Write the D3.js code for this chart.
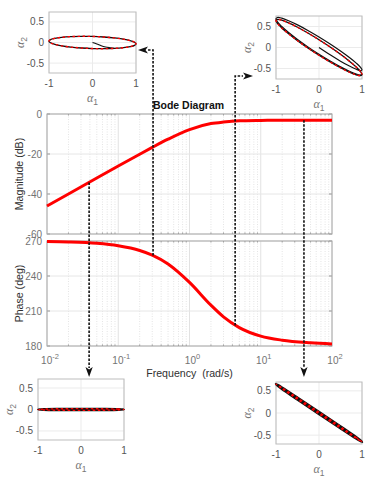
<!DOCTYPE html>
<html>
<head>
<meta charset="utf-8">
<script src="https://cdn.jsdelivr.net/npm/d3@7"></script>
<style>
  body { margin: 0; background: #fff; }
  svg { display: block; font-family: "Liberation Sans", Arial, sans-serif; }
</style>
</head>
<body>
<script>
var width = 374,
    height = 477;

// bode data
var freq      = [0.01, 0.02, 0.05, 0.1, 0.2, 0.3, 0.5, 1, 2, 3, 5, 10, 20, 50, 100];
var magDb     = [-46.0, -40.0, -32.0, -26.0, -20.1, -16.7, -12.6, -7.8, -4.8, -4.0, -3.4, -3.2, -3.1, -3.1, -3.1];
var phaseDeg  = [269.6, 269.2, 268.0, 265.9, 261.9, 257.9, 250.3, 234.5, 215.0, 205.0, 195.8, 188.5, 185.0, 182.8, 181.8];

var magTicks   = [0, -20, -40, -60];
var phaseTicks = [270, 240, 210, 180];
var freqTicks  = [0.01, 0.1, 1, 10, 100];
var freqExp    = ["-2", "-1", "0", "1", "2"];

// the four probe frequencies (dashed connectors)
var probeFreq  = [0.039, 0.308, 4.37, 40.4];
var probeMag   = [-34.2, -16.6, -3.4, -3.1];
var probePhase = [268.4, 257.6, 197.6, 183.6];

// inset ticks
var insetXTicks = [-1, 0, 1];
var insetYTicks = [0.5, 0, -0.5];

// inset A (w = 0.31)
var ellA1 = [1, 0.966, 0.866, 0.707, 0.5, 0.259, 0, -0.259, -0.5, -0.707, -0.866, -0.966, -1, -0.966, -0.866, -0.707, -0.5, -0.259, 0, 0.259, 0.5, 0.707, 0.866, 0.966];
var ellA2 = [-0.032, 0.007, 0.045, 0.081, 0.111, 0.133, 0.147, 0.150, 0.143, 0.126, 0.101, 0.069, 0.032, -0.007, -0.045, -0.081, -0.111, -0.133, -0.147, -0.150, -0.143, -0.126, -0.101, -0.069];
var trA1  = [0, 0.1, 0.2, 0.3, 0.42, 0.5];
var trA2  = [0, -0.035, -0.08, -0.11, -0.13, -0.143];

// inset B (w = 4.4)
var ellB1 = ellA1.slice();
var ellB2 = [-0.644, -0.574, -0.465, -0.325, -0.162, 0.012, 0.185, 0.345, 0.482, 0.586, 0.650, 0.670, 0.644, 0.574, 0.465, 0.325, 0.162, -0.012, -0.185, -0.345, -0.482, -0.586, -0.650, -0.670];
var trB1  = [0, 0.259, 0.5, 0.707, 0.866, 0.966, 1, 0.966, 0.866, 0.707, 0.5, 0.259, 0, -0.259, -0.5, -0.707, -0.866, -0.966, -1, -0.966, -0.866, -0.707, -0.5, -0.259, 0, 0.259, 0.5, 0.707, 0.866, 0.966, 1];
var trB2  = [0, -0.175, -0.326, -0.442, -0.518, -0.549, -0.532, -0.471, -0.371, -0.238, -0.082, 0.085, 0.252, 0.407, 0.539, 0.638, 0.698, 0.714, 0.685, 0.611, 0.499, 0.356, 0.191, 0.015, -0.161, -0.323, -0.462, -0.567, -0.633, -0.654, -0.630];

// inset C (w = 0.039)
var ellC1 = [1, 0.866, 0.5, 0, -0.5, -0.866, -1, -0.866, -0.5, 0, 0.5, 0.866];
var ellC2 = [0, 0.010, 0.017, 0.020, 0.017, 0.010, 0, -0.010, -0.017, -0.020, -0.017, -0.010];

// inset D (w = 40)
var ellD1 = ellC1.slice();
var ellD2 = [-0.651, -0.553, -0.308, 0.020, 0.343, 0.574, 0.651, 0.553, 0.308, -0.020, -0.343, -0.574];

var svg = d3.select("body").append("svg")
    .attr("width", width)
    .attr("height", height);

var x = d3.scaleLog().domain([0.01, 100]).range([47, 332]);
var yMag = d3.scaleLinear().domain([-60, 0]).range([234, 114]);
var yPh = d3.scaleLinear().domain([180, 270]).range([346, 241]);

var minorFreq = [];
for (var e = -2; e < 2; e++) {
  for (var k = 2; k < 10; k++) minorFreq.push(k * Math.pow(10, e));
}

function drawPanel(y, ticks, label) {
  var g = svg.append("g");
  var y0 = y.range()[1], y1 = y.range()[0];

  g.selectAll("line.minor").data(minorFreq).enter().append("line")
    .attr("x1", x).attr("x2", x).attr("y1", y0).attr("y2", y1)
    .attr("stroke", "#e4e4e4").attr("stroke-dasharray", "1,1.5");
  g.selectAll("line.major").data(freqTicks).enter().append("line")
    .attr("x1", x).attr("x2", x).attr("y1", y0).attr("y2", y1)
    .attr("stroke", "#e2e2e2");
  g.selectAll("line.hgrid").data(ticks).enter().append("line")
    .attr("x1", 47).attr("x2", 332).attr("y1", y).attr("y2", y)
    .attr("stroke", "#e6e6e6");

  // ticks inside the box
  g.selectAll("line.tb").data(minorFreq).enter().append("line")
    .attr("x1", x).attr("x2", x).attr("y1", y1).attr("y2", y1 - 1.5).attr("stroke", "#999");
  g.selectAll("line.tt").data(minorFreq).enter().append("line")
    .attr("x1", x).attr("x2", x).attr("y1", y0).attr("y2", y0 + 1.5).attr("stroke", "#999");
  g.selectAll("line.yt").data(ticks).enter().append("line")
    .attr("x1", 47).attr("x2", 50).attr("y1", y).attr("y2", y).attr("stroke", "#999");
  g.selectAll("line.yt2").data(ticks).enter().append("line")
    .attr("x1", 329).attr("x2", 332).attr("y1", y).attr("y2", y).attr("stroke", "#999");

  g.append("rect")
    .attr("x", 47).attr("y", y0).attr("width", 285).attr("height", y1 - y0)
    .attr("fill", "none").attr("stroke", "#a8a8a8");

  g.selectAll("text.yl").data(ticks).enter().append("text")
    .attr("x", 42).attr("y", function(d) { return y(d) + 3.5; })
    .attr("text-anchor", "end")
    .attr("font-size", 10).attr("fill", "#737373")
    .text(function(d) { return d; });

  g.append("text")
    .attr("transform", "translate(23," + (y0 + y1) / 2 + ")rotate(-90)")
    .attr("text-anchor", "middle")
    .attr("font-size", 10.6).attr("fill", "#303030")
    .text(label);
  return g;
}

drawPanel(yMag, magTicks, "Magnitude (dB)");
drawPanel(yPh, phaseTicks, "Phase (deg)");

// frequency tick labels
var xl = svg.selectAll("text.xl").data(freqTicks).enter().append("text")
    .attr("x", function(d) { return x(d) + 3; })
    .attr("y", 364)
    .attr("text-anchor", "middle")
    .attr("font-size", 10).attr("fill", "#737373");
xl.append("tspan").text("10");
xl.append("tspan").attr("dy", -5).attr("font-size", 7.5)
  .text(function(d, i) { return freqExp[i]; });

svg.append("text")
  .attr("x", 189.5).attr("y", 377)
  .attr("text-anchor", "middle")
  .attr("font-size", 10.6).attr("fill", "#303030")
  .style("white-space", "pre")
  .text("Frequency  (rad/s)");

svg.append("text")
  .attr("x", 188.5).attr("y", 109)
  .attr("text-anchor", "middle")
  .attr("font-size", 10.5).attr("font-weight", "bold").attr("fill", "#111")
  .text("Bode Diagram");

// bode curves
var magLine = d3.line()
  .x(function(d, i) { return x(freq[i]); })
  .y(function(d) { return yMag(d); })
  .curve(d3.curveMonotoneX);
var phLine = d3.line()
  .x(function(d, i) { return x(freq[i]); })
  .y(function(d) { return yPh(d); })
  .curve(d3.curveMonotoneX);

svg.append("path").attr("d", magLine(magDb))
  .attr("fill", "none").attr("stroke", "#ff0000").attr("stroke-width", 3);
svg.append("path").attr("d", phLine(phaseDeg))
  .attr("fill", "none").attr("stroke", "#ff0000").attr("stroke-width", 3);

// insets
function drawInset(box, yDom, loops, trans, blackWidth) {
  var sx = d3.scaleLinear().domain([-1, 1]).range([box.x0, box.x1]);
  var sy = d3.scaleLinear().domain(yDom).range([box.y1, box.y0]);
  var g = svg.append("g");

  g.selectAll("line.gx").data(insetXTicks).enter().append("line")
    .attr("x1", sx).attr("x2", sx).attr("y1", box.y0).attr("y2", box.y1)
    .attr("stroke", "#ebebeb");
  g.selectAll("line.gy").data(insetYTicks).enter().append("line")
    .attr("x1", box.x0).attr("x2", box.x1).attr("y1", sy).attr("y2", sy)
    .attr("stroke", "#ebebeb");
  g.append("rect")
    .attr("x", box.x0).attr("y", box.y0)
    .attr("width", box.x1 - box.x0).attr("height", box.y1 - box.y0)
    .attr("fill", "none").attr("stroke", "#bdbdbd");

  var closed = d3.line()
    .x(function(d) { return sx(d[0]); })
    .y(function(d) { return sy(d[1]); })
    .curve(d3.curveCatmullRomClosed);
  var open = d3.line()
    .x(function(d) { return sx(d[0]); })
    .y(function(d) { return sy(d[1]); })
    .curve(d3.curveCatmullRom);

  if (trans) {
    g.append("path").attr("d", open(trans))
      .attr("fill", "none").attr("stroke", "#111").attr("stroke-width", 1.2);
  }
  g.append("path").attr("d", closed(loops))
    .attr("fill", "none").attr("stroke", "#111").attr("stroke-width", blackWidth);
  g.append("path").attr("d", closed(loops))
    .attr("fill", "none").attr("stroke", "#ff0000").attr("stroke-width", 1.4)
    .attr("stroke-dasharray", "2.5,2.5");

  g.selectAll("text.tx").data(insetXTicks).enter().append("text")
    .attr("x", sx).attr("y", box.y1 + 13.5)
    .attr("text-anchor", "middle")
    .attr("font-size", 10).attr("fill", "#555")
    .text(function(d) { return d; });
  g.selectAll("text.ty").data(insetYTicks).enter().append("text")
    .attr("x", box.x0 - 5).attr("y", function(d) { return sy(d) + 3.5; })
    .attr("text-anchor", "end")
    .attr("font-size", 10).attr("fill", "#555")
    .text(function(d) { return d; });

  var a1 = g.append("text")
    .attr("x", (box.x0 + box.x1) / 2).attr("y", box.y1 + 29)
    .attr("text-anchor", "middle").attr("fill", "#777");
  a1.append("tspan").attr("font-family", "Liberation Serif").attr("font-style", "italic")
    .attr("font-size", 12).text("α");
  a1.append("tspan").attr("dy", 3).attr("font-size", 8.5).text("1");

  var a2 = g.append("text")
    .attr("transform", "translate(" + (box.x0 - 25) + "," + (box.y0 + box.y1) / 2 + ")rotate(-90)")
    .attr("text-anchor", "middle").attr("fill", "#777");
  a2.append("tspan").attr("font-family", "Liberation Serif").attr("font-style", "italic")
    .attr("font-size", 12).text("α");
  a2.append("tspan").attr("dy", 3).attr("font-size", 8.5).text("2");
}

function zip(a, b) { return a.map(function(v, i) { return [v, b[i]]; }); }

drawInset({x0: 49, x1: 136, y0: 12, y1: 73}, [-0.74, 0.74], zip(ellA1, ellA2), zip(trA1, trA2), 1.3);
drawInset({x0: 276, x1: 362, y0: 16, y1: 79}, [-0.75, 0.75], zip(ellB1, ellB2), zip(trB1, trB2), 1.3);
drawInset({x0: 38, x1: 124, y0: 379, y1: 440}, [-0.71, 0.71], zip(ellC1, ellC2), null, 2);
drawInset({x0: 276, x1: 362, y0: 382, y1: 444}, [-0.7, 0.7], zip(ellD1, ellD2), null, 2.8);

// dashed connectors with arrow heads
function connector(pts) {
  svg.append("path")
    .attr("d", d3.line()(pts))
    .attr("fill", "none").attr("stroke", "#111")
    .attr("stroke-width", 1.6).attr("stroke-dasharray", "2.5,1.5");
}
function arrowHead(tx, ty, angle) {
  svg.append("path")
    .attr("d", "M0,0L-10,-3.6L-7.5,0L-10,3.6Z")
    .attr("transform", "translate(" + tx + "," + ty + ")rotate(" + angle + ")")
    .attr("fill", "#111");
}

var px = probeFreq.map(function(f) { return x(f); });

connector([[px[0], yMag(probeMag[0])], [px[0], 368]]);
arrowHead(px[0], 377, 90);

connector([[px[1], yPh(probePhase[1])], [px[1], 50], [147, 50]]);
arrowHead(138, 50, 180);

connector([[px[2], yPh(probePhase[2])], [px[2], 76], [243, 76]]);
arrowHead(253, 76, 0);

connector([[px[3], yMag(probeMag[3])], [px[3], 368]]);
arrowHead(px[3], 377, 90);
</script>
</body>
</html>
